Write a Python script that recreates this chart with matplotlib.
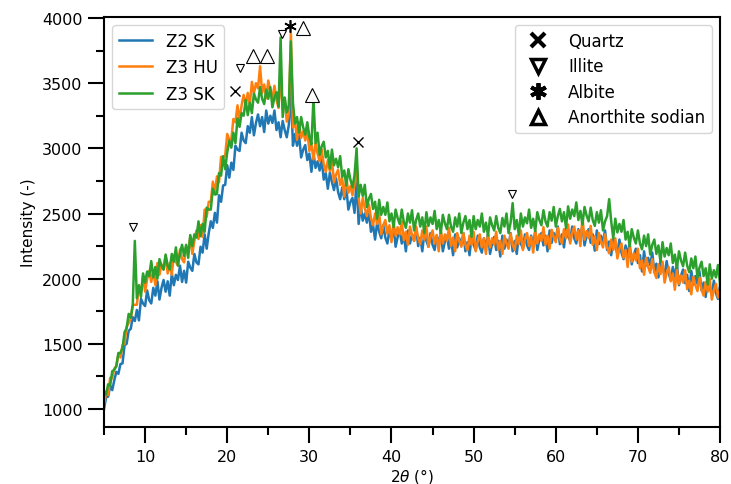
import matplotlib.pyplot as plt
import numpy as np
from matplotlib.lines import Line2D

# 2theta grid, 0.25 deg steps from 5 to 80
two_theta = np.linspace(5, 80, 301)

# intensities, one line = 5 degrees
z2_sk = [
    1000, 1090, 1095, 1180, 1145, 1220, 1285, 1270, 1345, 1350, 1490, 1500, 1600, 1615, 1705, 1675, 1760, 1680, 1845, 1810,  # 5-9
    1790, 1910, 1835, 1810, 1930, 1870, 1980, 1840, 1930, 1990, 1900, 1980, 1870, 2040, 1950, 2030, 1990, 2100, 1975, 2060,  # 10-14
    1970, 2130, 2085, 2060, 2190, 2125, 2110, 2245, 2200, 2340, 2230, 2350, 2440, 2390, 2505, 2430, 2640, 2590, 2715, 2720,  # 15-19
    2870, 2775, 2890, 2835, 3020, 2990, 2980, 3120, 3060, 3040, 3170, 3120, 3240, 3100, 3195, 3260, 3170, 3240, 3125, 3290,  # 20-24
    3190, 3250, 3195, 3290, 3140, 3200, 3085, 3210, 3140, 3085, 3180, 3450, 3020, 3110, 3020, 3100, 2930, 2990, 3025, 2910,  # 25-29
    2960, 2820, 2965, 2850, 2900, 2830, 2915, 2760, 2810, 2690, 2815, 2740, 2680, 2770, 2665, 2610, 2700, 2610, 2695, 2530,  # 30-34
    2590, 2620, 2505, 2760, 2420, 2560, 2445, 2500, 2430, 2515, 2360, 2415, 2300, 2430, 2360, 2310, 2410, 2315, 2270, 2375,  # 35-39
    2300, 2400, 2245, 2320, 2370, 2270, 2335, 2210, 2370, 2270, 2340, 2290, 2390, 2250, 2315, 2210, 2350, 2290, 2245, 2350,  # 40-44
    2260, 2220, 2330, 2260, 2360, 2210, 2285, 2330, 2230, 2300, 2180, 2340, 2240, 2310, 2255, 2350, 2210, 2280, 2180, 2320,  # 45-49
    2260, 2220, 2330, 2240, 2200, 2310, 2240, 2340, 2190, 2270, 2320, 2220, 2290, 2170, 2330, 2230, 2300, 2250, 2350, 2210,  # 50-54
    2290, 2190, 2330, 2270, 2230, 2340, 2255, 2220, 2330, 2260, 2365, 2220, 2300, 2350, 2255, 2330, 2210, 2370, 2275, 2350,  # 55-59
    2300, 2400, 2265, 2340, 2240, 2380, 2325, 2290, 2400, 2310, 2270, 2380, 2310, 2410, 2255, 2330, 2380, 2275, 2340, 2215,  # 60-64
    2370, 2265, 2330, 2275, 2370, 2220, 2285, 2180, 2310, 2240, 2195, 2300, 2200, 2150, 2255, 2180, 2270, 2110, 2185, 2230,  # 65-69
    2120, 2180, 2055, 2210, 2100, 2160, 2105, 2200, 2050, 2115, 2010, 2145, 2080, 2030, 2135, 2040, 1990, 2090, 2015, 2110,  # 70-74
    1950, 2025, 2070, 1965, 2030, 1905, 2060, 1955, 2020, 1960, 2055, 1910, 1970, 1860, 1995, 1930, 1880, 1985, 1890, 1845,  # 75-79
    1950,
]

z3_hu = [
    1040, 1120, 1110, 1240, 1235, 1310, 1330, 1420, 1395, 1490, 1500, 1630, 1660, 1690, 1795, 1800, 1800, 1940, 1895, 2020,  # 5-9
    1900, 1995, 2060, 1975, 2060, 1950, 2120, 2030, 2110, 2070, 2175, 2040, 2120, 2030, 2180, 2130, 2100, 2225, 2150, 2125,  # 10-14
    2250, 2200, 2320, 2190, 2290, 2370, 2305, 2410, 2320, 2530, 2475, 2590, 2590, 2745, 2660, 2785, 2740, 2935, 2930, 2945,  # 15-19
    3110, 3065, 3070, 3225, 3200, 3330, 3215, 3330, 3410, 3330, 3425, 3330, 3510, 3420, 3500, 3460, 3630, 3425, 3490, 3385,  # 20-24
    3520, 3440, 3385, 3480, 3370, 3310, 3560, 3300, 3380, 3205, 3260, 3880, 3160, 3210, 3065, 3200, 3080, 3130, 3060, 3140,  # 25-29
    2980, 3030, 2915, 3040, 2960, 2900, 2990, 2880, 2820, 2910, 2825, 2910, 2740, 2800, 2835, 2720, 2770, 2630, 2775, 2660,  # 30-34
    2710, 2640, 2725, 2870, 2620, 2500, 2620, 2540, 2480, 2570, 2465, 2410, 2500, 2420, 2505, 2340, 2410, 2450, 2345, 2410,  # 35-39
    2280, 2435, 2330, 2395, 2340, 2440, 2295, 2360, 2260, 2400, 2335, 2290, 2400, 2310, 2265, 2370, 2300, 2400, 2245, 2320,  # 40-44
    2370, 2270, 2335, 2210, 2370, 2270, 2340, 2290, 2390, 2250, 2315, 2210, 2350, 2290, 2245, 2350, 2260, 2220, 2330, 2260,  # 45-49
    2360, 2210, 2290, 2340, 2240, 2310, 2190, 2340, 2240, 2310, 2260, 2360, 2220, 2290, 2190, 2330, 2270, 2230, 2345, 2260,  # 50-54
    2220, 2330, 2265, 2370, 2220, 2300, 2350, 2250, 2320, 2200, 2365, 2270, 2340, 2290, 2395, 2260, 2330, 2230, 2375, 2320,  # 55-59
    2280, 2390, 2305, 2270, 2380, 2310, 2415, 2270, 2350, 2400, 2300, 2370, 2250, 2470, 2300, 2365, 2310, 2405, 2260, 2325,  # 60-64
    2220, 2350, 2285, 2240, 2340, 2240, 2195, 2300, 2220, 2310, 2155, 2230, 2270, 2160, 2220, 2090, 2240, 2130, 2195, 2140,  # 65-69
    2230, 2080, 2140, 2030, 2160, 2090, 2045, 2150, 2050, 2005, 2110, 2035, 2130, 1970, 2045, 2090, 1980, 2040, 1915, 2070,  # 70-74
    1960, 2025, 1970, 2065, 1920, 1985, 1880, 2015, 1950, 1905, 2010, 1915, 1870, 1975, 1900, 1995, 1840, 1915, 1960, 1855,  # 75-79
    1920,
]

z3_sk = [
    1140, 1110, 1190, 1180, 1290, 1300, 1330, 1430, 1430, 1470, 1590, 1620, 1730, 1700, 1800, 2290, 1850, 1950, 1860, 2040,  # 5-9
    1970, 2055, 2020, 2135, 2010, 2090, 2000, 2150, 2100, 2070, 2185, 2100, 2070, 2190, 2130, 2240, 2100, 2195, 2260, 2175,  # 10-14
    2260, 2160, 2335, 2250, 2340, 2315, 2440, 2325, 2420, 2360, 2545, 2530, 2530, 2690, 2645, 2650, 2810, 2790, 2940, 2840,  # 15-19
    2970, 3060, 3005, 3120, 3040, 3230, 3165, 3270, 3250, 3370, 3255, 3350, 3270, 3420, 3375, 3350, 3470, 3380, 3340, 3450,  # 20-24
    3380, 3470, 3315, 3390, 3430, 3320, 3850, 3240, 3390, 3275, 3330, 3820, 3350, 3190, 3240, 3120, 3240, 3160, 3105, 3200,  # 25-29
    3090, 3030, 3380, 3040, 3120, 2950, 3015, 3050, 2930, 2980, 2845, 2990, 2870, 2920, 2855, 2940, 2780, 2830, 2715, 2840,  # 30-34
    2760, 2700, 2795, 3000, 2630, 2720, 2635, 2720, 2550, 2615, 2650, 2535, 2590, 2460, 2605, 2490, 2550, 2490, 2585, 2440,  # 35-39
    2500, 2395, 2530, 2465, 2420, 2530, 2435, 2390, 2500, 2430, 2525, 2370, 2450, 2500, 2400, 2470, 2350, 2510, 2405, 2470,  # 40-44
    2420, 2520, 2380, 2450, 2350, 2490, 2425, 2380, 2490, 2400, 2360, 2470, 2400, 2500, 2350, 2430, 2480, 2380, 2450, 2320,  # 45-49
    2480, 2380, 2450, 2400, 2500, 2360, 2430, 2330, 2470, 2410, 2370, 2480, 2390, 2350, 2465, 2400, 2500, 2350, 2430, 2580,  # 50-54
    2380, 2450, 2335, 2500, 2400, 2470, 2425, 2530, 2390, 2460, 2365, 2510, 2450, 2410, 2525, 2440, 2400, 2510, 2445, 2550,  # 55-59
    2400, 2480, 2535, 2440, 2510, 2390, 2555, 2460, 2530, 2480, 2585, 2450, 2520, 2415, 2550, 2485, 2440, 2545, 2450, 2405,  # 60-64
    2510, 2430, 2525, 2370, 2440, 2480, 2610, 2440, 2310, 2460, 2355, 2420, 2360, 2450, 2300, 2360, 2250, 2380, 2315, 2270,  # 65-69
    2370, 2270, 2225, 2330, 2250, 2340, 2185, 2260, 2300, 2190, 2255, 2130, 2280, 2170, 2235, 2180, 2270, 2120, 2185, 2080,  # 70-74
    2210, 2140, 2095, 2200, 2100, 2050, 2155, 2080, 2170, 2010, 2085, 2130, 2020, 2080, 1955, 2110, 2000, 2065, 2010, 2105,  # 75-79
    1960,
]

# phase markers placed above the peaks
quartz_x = [20.95, 35.9]
quartz_y = [3440, 3045]
illite_x = [8.57, 21.56, 26.63, 54.64]
illite_y = [2395, 3615, 3875, 2650]
albite_x = [27.7]
albite_y = [3935]
anorthite_x = [23.18, 24.81, 29.24, 30.28]
anorthite_y = [3705, 3705, 3925, 3412]

fig = plt.figure(figsize=(7.31, 4.85), dpi=100)
ax = fig.add_axes([0.1423, 0.1175, 0.8427, 0.8455])

ax.plot(two_theta, z2_sk, color='tab:blue', lw=1.8, label='Z2 SK')
ax.plot(two_theta, z3_hu, color='tab:orange', lw=1.8, label='Z3 HU')
ax.plot(two_theta, z3_sk, color='tab:green', lw=1.8, label='Z3 SK')

ax.plot(quartz_x, quartz_y, ls='none', marker='x', ms=7, mew=1.0, color='k')
ax.plot(illite_x, illite_y, ls='none', marker='v', ms=6, mew=0.8, mfc='white', color='k')
ax.plot(albite_x, albite_y, ls='none', marker=(6, 2, 0), ms=9, mew=1.2, color='k')
ax.plot(anorthite_x, anorthite_y, ls='none', marker='^', ms=10, mew=0.8, mfc='white', color='k')

ax.set_xlim(5, 80)
ax.set_ylim(862, 4008)
ax.set_xticks(np.arange(10, 81, 10))
ax.set_xticks(np.arange(5, 81, 5), minor=True)
ax.set_yticks(np.arange(1000, 4001, 500))
ax.set_yticks(np.arange(1000, 4001, 250), minor=True)
ax.tick_params(which='major', length=11.5, width=1.5, pad=4, labelsize=11.5)
ax.tick_params(which='minor', length=5.8, width=1.5)
for s in ax.spines.values():
    s.set_linewidth(1.5)

ax.set_xlabel(r'2$\theta$ (°)', fontsize=11, labelpad=2)
ax.set_ylabel('Intensity (-)', fontsize=11, labelpad=4)

leg1 = ax.legend(loc='upper left', fontsize=12, borderaxespad=0.5)
ax.add_artist(leg1)

phase_handles = [
    Line2D([], [], ls='none', marker='x', ms=10, mew=3, color='k'),
    Line2D([], [], ls='none', marker='v', ms=10, mew=2.5, mfc='white', color='k'),
    Line2D([], [], ls='none', marker=(6, 2, 0), ms=12, mew=2.8, color='k'),
    Line2D([], [], ls='none', marker='^', ms=10, mew=2.5, mfc='white', color='k'),
]
ax.legend(phase_handles, ['Quartz', 'Illite', 'Albite', 'Anorthite sodian'],
          loc='upper right', fontsize=12, borderaxespad=0.5, labelspacing=0.45)

plt.savefig('out.png', dpi=100)
